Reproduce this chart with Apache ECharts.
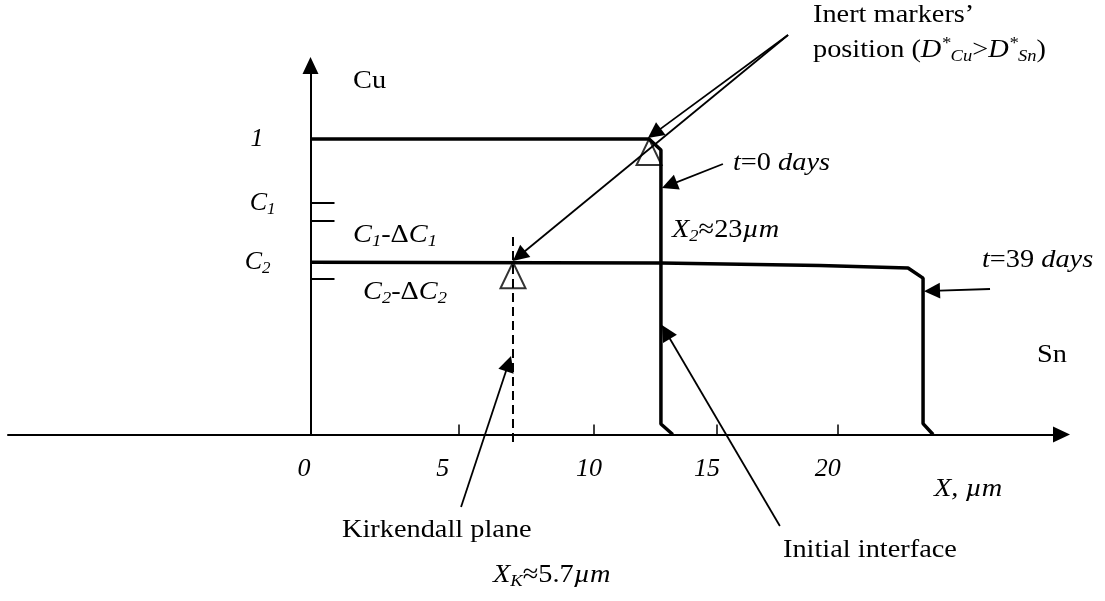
<!DOCTYPE html>
<html>
<head>
<meta charset="utf-8">
<script src="https://cdn.jsdelivr.net/npm/echarts@6/dist/echarts.min.js"></script>
<style>html,body{margin:0;padding:0;background:#fff}#chart{width:1105px;height:601px}</style>
</head>
<body>
<div id="chart"></div>
<script>
// Concentration levels (fraction of Cu)
const C1 = 0.784, C1dC1 = 0.7235, C2 = 0.5827, C2dC2 = 0.5286;
const yTickValues = [C1, C1dC1, C2dC2];
const yLabelValues = [1, C1, C2];
const yLabelTexts = ['{i|1}', '{i|C}{s|1}', '{i|C}{s|2}'];
// x axis (µm): hand-drawn tick marks and their labels
const xTickValues = [5.63, 10.75, 15.42, 20];
const xLabelValues = [-0.25, 5.02, 10.56, 15.04, 19.62];
const xLabelTexts = ['0', '5', '10', '15', '20'];
// concentration profiles [x µm, Cu fraction]
const profileT0 = [[0, 1], [12.84, 1], [13.29, 0.963], [13.29, 0.0355], [13.74, 0]];
const profileT39 = [[0, 0.5827], [13.29, 0.580], [19.32, 0.572], [22.66, 0.5635], [23.23, 0.529], [23.23, 0.037], [23.61, 0]];
const kirkendallPlane = [[7.68, 0.668], [7.68, -0.025]];
const inertMarkers = [[12.84, 1], [7.68, 0.5827]];
// annotation pointers [from, to]
const pointers = [
  [[18.11, 1.352], [13.04, 1.019]],
  [[18.11, 1.352], [7.91, 0.604]],
  [[15.64, 0.9154], [13.61, 0.844]],
  [[25.77, 0.4924], [23.57, 0.486]],
  [[5.71, -0.2453], [7.51, 0.240]],
  [[17.80, -0.3096], [13.48, 0.347]]
];

const FONT = 'Liberation Serif';
const rich = {
  n: {fontFamily: FONT, fontSize: 26, color: '#000', lineHeight: 30},
  i: {fontFamily: FONT, fontSize: 26, fontStyle: 'italic', color: '#000', lineHeight: 30},
  s: {fontFamily: FONT, fontSize: 17, fontStyle: 'italic', color: '#000', verticalAlign: 'bottom', lineHeight: 22},
  u: {fontFamily: FONT, fontSize: 17, fontStyle: 'italic', color: '#000', verticalAlign: 'top', lineHeight: 22}
};
function txt(x, y, text) {
  return {
    type: 'text', x: x, y: y, scaleX: 1.09, silent: true,
    style: {text: text, x: 0, y: 0, align: 'left', verticalAlign: 'middle',
      fontFamily: FONT, fontSize: 26, fill: '#000', rich: rich}
  };
}
function nearestIdx(arr, v) {
  let b = 0;
  for (let k = 1; k < arr.length; k++) if (Math.abs(arr[k] - v) < Math.abs(arr[b] - v)) b = k;
  return b;
}

const chart = echarts.init(document.getElementById('chart'));
chart.setOption({
  animation: false,
  backgroundColor: '#fff',
  grid: {left: 8, right: 43.5, top: 65.5, bottom: 166.5, outerBoundsMode: 'none', containLabel: false},
  xAxis: {
    type: 'value', min: -11.47, max: 28.48,
    splitLine: {show: false},
    axisLine: {onZero: true, symbol: ['none', 'triangle'], symbolSize: [16, 17], lineStyle: {color: '#000', width: 2}},
    axisTick: {show: true, inside: true, length: 10, customValues: xTickValues, lineStyle: {color: '#000', width: 1.5}},
    axisLabel: {
      customValues: xLabelValues, margin: 22,
      fontFamily: FONT, fontSize: 26, fontStyle: 'italic', color: '#000',
      formatter: v => xLabelTexts[nearestIdx(xLabelValues, v)]
    }
  },
  yAxis: {
    type: 'value', min: 0, max: 1.2487, offset: -302.5,
    splitLine: {show: false},
    axisLine: {onZero: false, symbol: ['none', 'triangle'], symbolSize: [16, 17], lineStyle: {color: '#000', width: 2}},
    axisTick: {show: true, inside: true, length: 24, customValues: yTickValues, lineStyle: {color: '#000', width: 2}},
    axisLabel: {
      customValues: yLabelValues, margin: 35,
      formatter: v => {
        const k = nearestIdx(yLabelValues, v);
        return yLabelTexts[k] + (k === 0 ? '{q|}' : (k === 2 ? '{r|}' : ''));
      },
      rich: Object.assign({}, rich, {q: {width: 12}, r: {width: 5}})
    }
  },
  series: [
    {type: 'line', name: 't=0', data: profileT0, symbol: 'none', clip: false,
     lineStyle: {color: '#000', width: 3.5}, z: 3},
    {type: 'line', name: 't=39', data: profileT39, symbol: 'none', clip: false,
     lineStyle: {color: '#000', width: 3.5}, z: 3},
    {type: 'line', name: 'Kirkendall plane', data: kirkendallPlane, symbol: 'none', clip: false,
     lineStyle: {color: '#000', width: 2, type: [9, 5]}, z: 4},
    {type: 'scatter', name: 'markers', data: inertMarkers, symbol: 'triangle', symbolSize: [25, 26],
     symbolOffset: [0, '50%'], clip: false,
     itemStyle: {color: 'rgba(0,0,0,0)', borderColor: '#000', borderWidth: 2}, z: 5},
    {type: 'lines', coordinateSystem: 'cartesian2d', clip: false, z: 6,
     symbol: ['none', 'triangle'], symbolSize: 16,
     lineStyle: {color: '#000', width: 1.8, opacity: 1, curveness: 0},
     data: pointers.map(p => ({coords: p}))}
  ],
  graphic: [
    txt(353, 81, '{n|Cu}'),
    txt(1037, 355, '{n|Sn}'),
    txt(813, 15, '{n|Inert markers’}'),
    txt(813, 50, '{n|position (}{i|D}{u|*}{s|Cu}{n|>}{i|D}{u|*}{s|Sn}{n|)}'),
    txt(733, 163, '{i|t}{n|=0 }{i|days}'),
    txt(982, 260, '{i|t}{n|=39 }{i|days}'),
    txt(672, 230, '{i|X}{s|2}{n|≈23}{i|µm}'),
    txt(353, 235, '{i|C}{s|1}{n|-Δ}{i|C}{s|1}'),
    txt(363, 292, '{i|C}{s|2}{n|-Δ}{i|C}{s|2}'),
    txt(342, 530, '{n|Kirkendall plane}'),
    txt(783, 550, '{n|Initial interface}'),
    txt(493, 575, '{i|X}{s|K}{n|≈5.7}{i|µm}'),
    txt(934, 489, '{i|X, µm}')
  ]
});
</script>
</body>
</html>
